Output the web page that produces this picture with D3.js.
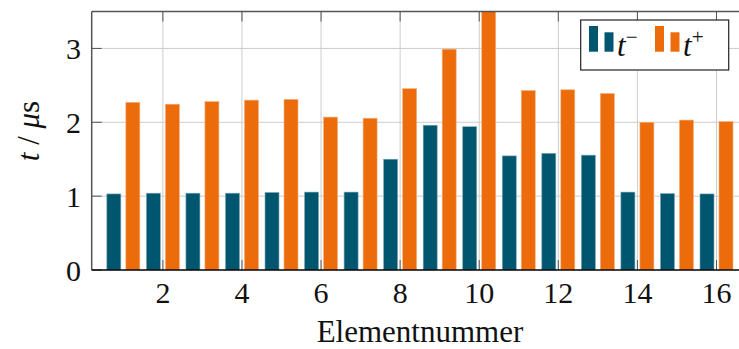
<!DOCTYPE html>
<html>
<head>
<meta charset="utf-8">
<script src="https://cdn.jsdelivr.net/npm/d3@7"></script>
<style>
  body { margin: 0; background: #fff; }
</style>
</head>
<body>
<div id="chart"></div>
<script>
// data
var elements = [1, 2, 3, 4, 5, 6, 7, 8, 9, 10, 11, 12, 13, 14, 15, 16];
var tMinus = [1.03, 1.04, 1.04, 1.04, 1.05, 1.055, 1.055, 1.50, 1.96, 1.94, 1.545, 1.58, 1.555, 1.055, 1.035, 1.03];
var tPlus = [2.27, 2.245, 2.28, 2.30, 2.31, 2.07, 2.055, 2.455, 2.99, 3.6, 2.43, 2.44, 2.39, 2.00, 2.03, 2.01];
var xTicks = [2, 4, 6, 8, 10, 12, 14, 16];
var yTicks = [0, 1, 2, 3];

var svgWidth = 739;
var svgHeight = 349;
var serif = "'Liberation Serif', 'DejaVu Serif', 'Times New Roman', Times, serif";

// plot frame (right edge runs out of the picture)
var plot = { left: 91.7, right: 741, top: 11.5, bottom: 270 };

var svg = d3.select("#chart")
  .append("svg")
  .attr("width", svgWidth)
  .attr("height", svgHeight)
  .style("font-family", serif);

var xScale = d3.scaleLinear()
  .domain([0.2, 16.62])
  .range([plot.left, plot.right]);

var yScale = d3.scaleLinear()
  .domain([0, 3.5])
  .range([plot.bottom, plot.top]);

var blue = "#00566f";
var orange = "#ec6c0c";
var barWidth = 14;
var barShift = 9.5;

svg.append("clipPath")
  .attr("id", "plotClip")
  .append("rect")
  .attr("x", plot.left)
  .attr("y", plot.top)
  .attr("width", plot.right - plot.left)
  .attr("height", plot.bottom - plot.top);

// grid
var grid = svg.append("g").attr("stroke", "#cccccc").attr("stroke-width", 1);
grid.selectAll(".vgrid")
  .data(xTicks)
  .enter()
  .append("line")
  .attr("x1", d => xScale(d))
  .attr("x2", d => xScale(d))
  .attr("y1", plot.top)
  .attr("y2", plot.bottom);
grid.selectAll(".hgrid")
  .data(yTicks.filter(d => d > 0))
  .enter()
  .append("line")
  .attr("x1", plot.left)
  .attr("x2", plot.right)
  .attr("y1", d => yScale(d))
  .attr("y2", d => yScale(d));

// bars
var bars = svg.append("g").attr("clip-path", "url(#plotClip)");
bars.selectAll(".minus")
  .data(tMinus)
  .enter()
  .append("rect")
  .attr("x", (d, i) => xScale(elements[i]) - barShift - barWidth / 2)
  .attr("y", d => yScale(d))
  .attr("width", barWidth)
  .attr("height", d => plot.bottom - yScale(d))
  .attr("fill", blue)
  .attr("stroke", "#7fa9b6")
  .attr("stroke-width", 0.6);
bars.selectAll(".plus")
  .data(tPlus)
  .enter()
  .append("rect")
  .attr("x", (d, i) => xScale(elements[i]) + barShift - barWidth / 2)
  .attr("y", d => yScale(d))
  .attr("width", barWidth)
  .attr("height", d => plot.bottom - yScale(d))
  .attr("fill", orange)
  .attr("stroke", "#f4b07e")
  .attr("stroke-width", 0.6);

// ticks (inward) on frame
var ticks = svg.append("g").attr("stroke", "#555").attr("stroke-width", 1);
ticks.selectAll(".xt")
  .data(xTicks)
  .enter()
  .append("line")
  .attr("x1", d => xScale(d)).attr("x2", d => xScale(d))
  .attr("y1", plot.top).attr("y2", plot.top + 10);
ticks.selectAll(".xb")
  .data(xTicks)
  .enter()
  .append("line")
  .attr("x1", d => xScale(d)).attr("x2", d => xScale(d))
  .attr("y1", plot.bottom).attr("y2", plot.bottom - 10);
ticks.selectAll(".yl")
  .data(yTicks)
  .enter()
  .append("line")
  .attr("x1", plot.left).attr("x2", plot.left + 10)
  .attr("y1", d => yScale(d)).attr("y2", d => yScale(d));

// frame
svg.append("line")
  .attr("x1", plot.left).attr("x2", plot.right)
  .attr("y1", plot.top).attr("y2", plot.top)
  .attr("stroke", "#555").attr("stroke-width", 1.5);
svg.append("line")
  .attr("x1", plot.left).attr("x2", plot.left)
  .attr("y1", plot.top).attr("y2", plot.bottom)
  .attr("stroke", "#555").attr("stroke-width", 1.5);
svg.append("line")
  .attr("x1", plot.left).attr("x2", plot.right)
  .attr("y1", plot.bottom).attr("y2", plot.bottom)
  .attr("stroke", "#000").attr("stroke-width", 1.6);

// tick labels
svg.selectAll(".xlab")
  .data(xTicks)
  .enter()
  .append("text")
  .attr("x", d => xScale(d))
  .attr("y", 303)
  .attr("text-anchor", "middle")
  .attr("font-size", 30)
  .attr("fill", "#111")
  .text(d => d);
svg.selectAll(".ylab")
  .data(yTicks)
  .enter()
  .append("text")
  .attr("x", 81)
  .attr("y", d => yScale(d) + 10.5)
  .attr("text-anchor", "end")
  .attr("font-size", 30)
  .attr("fill", "#111")
  .text(d => d);

// axis titles
svg.append("text")
  .attr("x", 420)
  .attr("y", 342)
  .attr("text-anchor", "middle")
  .attr("font-size", 31)
  .attr("fill", "#111")
  .text("Elementnummer");

var ylabel = svg.append("text")
  .attr("transform", "translate(39,131) rotate(-90)")
  .attr("text-anchor", "middle")
  .attr("font-size", 31)
  .attr("fill", "#111");
ylabel.append("tspan").attr("font-style", "italic").text("t");
ylabel.append("tspan").text(" / ");
ylabel.append("tspan").attr("font-style", "italic").text("μ");
ylabel.append("tspan").text("s");

// legend
var legend = svg.append("g");
legend.append("rect")
  .attr("x", 580.7).attr("y", 20)
  .attr("width", 148).attr("height", 50)
  .attr("fill", "#fff")
  .attr("stroke", "#222").attr("stroke-width", 1.2);

var legendItems = [
  { color: blue, sign: "−", x: 589 },
  { color: orange, sign: "+", x: 655 }
];
legendItems.forEach(function (item) {
  legend.append("rect")
    .attr("x", item.x).attr("y", 26)
    .attr("width", 9).attr("height", 25.7)
    .attr("fill", item.color);
  legend.append("rect")
    .attr("x", item.x + 15.5).attr("y", 32.3)
    .attr("width", 9).attr("height", 19.4)
    .attr("fill", item.color);
  var t = legend.append("text")
    .attr("x", item.x + 28)
    .attr("y", 56)
    .attr("font-size", 31)
    .attr("fill", "#111");
  t.append("tspan").attr("font-style", "italic").text("t");
  t.append("tspan").attr("font-size", 21).attr("dy", -12).text(item.sign);
});
</script>
</body>
</html>
